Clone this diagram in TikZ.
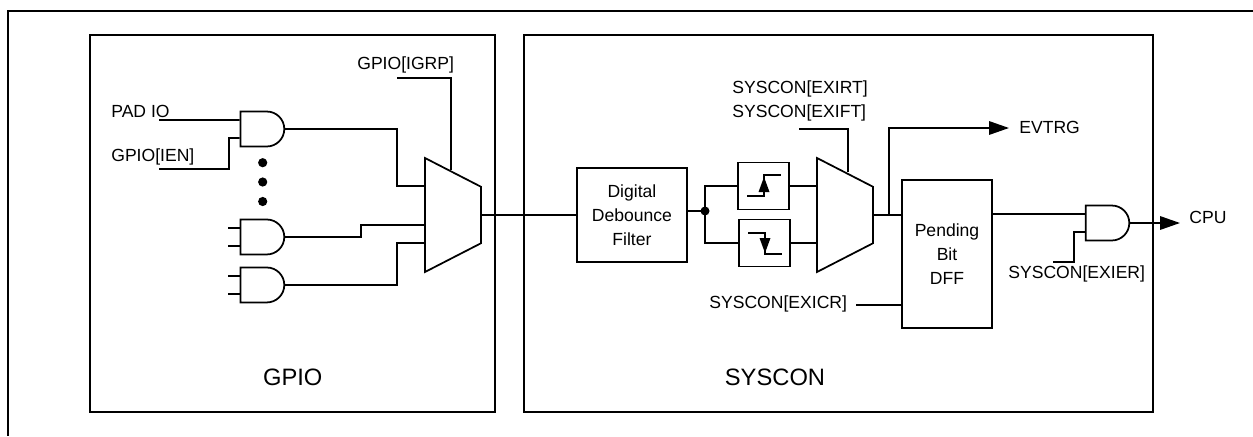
\documentclass[tikz,border=0pt]{standalone}
\usepackage{fontspec}
\setmainfont{Liberation Sans}
\usetikzlibrary{arrows.meta,shapes.geometric,shapes.gates.logic.US}
\begin{document}
\begin{tikzpicture}[x=0.02cm, y=-0.02cm, node distance=2cm, font=\fontsize{10}{12}\selectfont]

% Define styles
\tikzstyle{line} = [draw, line width=0.035cm]
\tikzstyle{arrowline} = [line, -{Triangle[length=0.4cm, width=0.27cm]}]
\tikzstyle{block} = [line, rectangle, inner sep=0pt, align=center]
\tikzstyle{txt} = [inner sep=0pt, anchor=west]
\tikzstyle{andgate} = [line, and gate US, logic gate inputs=nn, logic gate input sep=0.233cm, inner sep=0pt]
\tikzstyle{mux} = [line, trapezium, shape border rotate=270, trapezium stretches=true, trapezium left angle=63, trapezium right angle=63, minimum width=2.28cm, minimum height=1.12cm, inner sep=1pt]
\tikzstyle{edgebox} = [block, minimum width=1.02cm, minimum height=0.94cm]

\useasboundingbox (0,0) rectangle (1253,436);

% Frames
\draw[line width=0.04cm] (1253,11) -- (8,11) -- (8,436);
\node[block, minimum width=8.1cm, minimum height=7.54cm] (gpiobox) at (292.5,223.5) {};
\node[block, minimum width=12.58cm, minimum height=7.54cm] (sysconbox) at (838.5,223.5) {};
\node[font=\fontsize{13.5}{16}\selectfont] (gpiolabel) at (292.7,377) {GPIO};
\node[font=\fontsize{13.5}{16}\selectfont] (sysconlabel) at (775,377) {SYSCON};

% GPIO side
\node[andgate] (gatea) at (261,129) {};
\node[andgate, below of=gatea, node distance=2.16cm] (gateb) {};
\node[andgate, below of=gateb, node distance=0.96cm] (gatec) {};
\node[mux] (muxa) at (453,215) {};

\node[txt] (padio) at (111,111) {PAD IO};
\node[txt] (ien) at (111,157) {GPIO[IEN]};
\node[txt] (igrp) at (357,65) {GPIO[IGRP]};
\coordinate (padioend) at (159,120);
\coordinate (ienend) at (159,169);
\coordinate (igrpend) at (397,78);

% Dots
\foreach \y in {162.7,182,201.5}
  \fill (262.7,\y) circle (4.6);

% SYSCON side
\node[block, minimum width=2.2cm, minimum height=1.88cm, right of=muxa, node distance=3.58cm] (filter) {Digital\\[1.6pt]Debounce\\[1.6pt]Filter};
\node[edgebox] (edgeup) at (763.5,186) {};
\node[edgebox] (edgedown) at (764.5,243) {};
\node[mux] (muxb) at (845,215) {};
\node[block, minimum width=1.8cm, minimum height=2.96cm] (dff) at (947,254) {Pending\\[1.6pt]Bit\\[1.6pt]DFF};
\node[andgate] (gated) at (1106,223) {};

\node[txt] (exirt) at (732,89) {SYSCON[EXIRT]};
\node[txt] (exift) at (732,113) {SYSCON[EXIFT]};
\node[txt] (exicr) at (709,304) {SYSCON[EXICR]};
\node[txt] (exier) at (1008,274) {SYSCON[EXIER]};
\node[txt] (evtrg) at (1019,127) {EVTRG};
\node[txt] (cpu) at (1189,217) {CPU};
\coordinate (exiftend) at (799,129);
\coordinate (exicrend) at (856,305);
\coordinate (exierend) at (1053,262);
\coordinate (evtrgend) at (1009,128);
\coordinate (cpuend) at (1180,223);
\coordinate (junction) at (705,211);
\coordinate (branch) at (889,215);

% Edge symbols
\draw[line] (747,196) -- (764,196) -- (764,175) -- (781,175);
\fill (764,177) -- (769.5,192) -- (758.5,192) -- cycle;
\draw[line] (748,233) -- (765,233) -- (765,254) -- (782,254);
\fill (765,253) -- (770.5,238) -- (759.5,238) -- cycle;

% GPIO wires
\draw[line] (padioend) -- ([yshift=0.18cm]gatea.west);
\draw[line] (ienend) -| (229,138) -- ([yshift=-0.18cm]gatea.west);
\draw[line] (igrpend) -| (451,170);
\foreach \g in {gateb,gatec} {
  \draw[line] ([yshift=0.18cm]\g.west) -- ++(-12,0);
  \draw[line] ([yshift=-0.18cm]\g.west) -- ++(-12,0);
}
\draw[line] (gatea.east) -| (397,186) -- (425,186);
\draw[line] (gateb.east) -| (361,225) -- (425,225);
\draw[line] (gatec.east) -| (397,243) -- (425,243);

% SYSCON wires
\draw[line] (muxa.top side) -- (filter.west);
\draw[line] (junction -| filter.east) -- (junction);
\fill (junction) circle (4.5);
\draw[line] (edgeup.west) -| (junction) |- (edgedown.west);
\draw[line] (edgeup.east) -- (edgeup.east -| muxb.bottom side);
\draw[line] (edgedown.east) -- (edgedown.east -| muxb.bottom side);
\draw[line] (exiftend) -| (848,172);
\draw[line] (muxb.top side) -- (muxb.top side -| dff.west);
\draw[arrowline] (branch) |- (evtrgend);
\draw[line] (exicrend) -- (exicrend -| dff.west);
\draw[line] (dff.east |- 0,214) -- ([yshift=0.18cm]gated.west);
\draw[line] (exierend) -| (1074,232) -- ([yshift=-0.18cm]gated.west);
\draw[arrowline] (gated.east) -- (cpuend);

\end{tikzpicture}
\end{document}
